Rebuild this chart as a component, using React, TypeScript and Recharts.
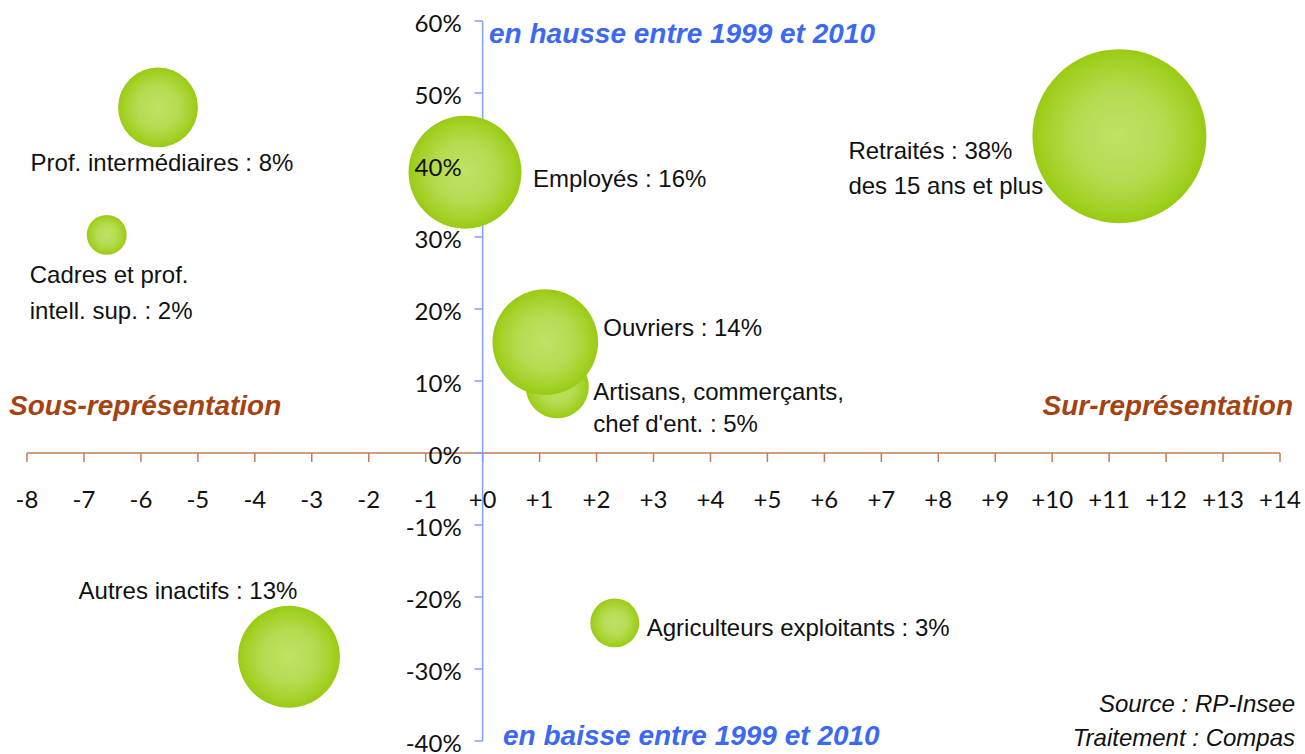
import React from 'react';
import { ScatterChart, Scatter, XAxis, YAxis, ZAxis } from 'recharts';

// données : écart de représentation (points) / évolution 1999-2010 / part de la population
const categories = [
    'Prof. intermédiaires',
    'Cadres et prof. intell. sup.',
    'Employés',
    'Retraités',
    'Artisans, commerçants, chef d\'ent.',
    'Ouvriers',
    'Agriculteurs exploitants',
    'Autres inactifs',
];
const labelLines = [
    ['Prof. intermédiaires : 8%'],
    ['Cadres et prof.', 'intell. sup. : 2%'],
    ['Employés : 16%'],
    ['Retraités : 38%', 'des 15 ans et plus'],
    ['Artisans, commerçants,', 'chef d\'ent. : 5%'],
    ['Ouvriers : 14%'],
    ['Agriculteurs exploitants : 3%'],
    ['Autres inactifs : 13%'],
];
const ecart = [-5.7, -6.6, -0.31, 11.18, 1.31, 1.1, 2.32, -3.4];
const evolution = [48.0, 30.3, 39.0, 44.0, 9.2, 15.4, -23.6, -28.3];
const partPop = [8, 2, 16, 38, 5, 14, 3, 13];

const xTicks = [-8, -7, -6, -5, -4, -3, -2, -1, 0, 1, 2, 3, 4, 5, 6, 7, 8, 9, 10, 11, 12, 13, 14];
const yTicks = [-40, -30, -20, -10, 0, 10, 20, 30, 40, 50, 60];

// placement des étiquettes, relatif au centre de la bulle
const labelPlacement: Record<string, { dx: number; dy: number; anchor: string; lh: number }> = {
    'Prof. intermédiaires': { dx: 4, dy: 55, anchor: 'middle', lh: 0 },
    'Cadres et prof. intell. sup.': { dx: -77, dy: 39, anchor: 'start', lh: 36 },
    'Employés': { dx: 68, dy: 6, anchor: 'start', lh: 0 },
    'Retraités': { dx: -271, dy: 14, anchor: 'start', lh: 35 },
    'Artisans, commerçants, chef d\'ent.': { dx: 36, dy: 4, anchor: 'start', lh: 32 },
    'Ouvriers': { dx: 58, dy: -15, anchor: 'start', lh: 0 },
    'Agriculteurs exploitants': { dx: 32, dy: 4, anchor: 'start', lh: 0 },
    'Autres inactifs': { dx: -101, dy: -67, anchor: 'middle', lh: 0 },
};

const LABEL_FONT = '"Liberation Sans", Arial, sans-serif';
const TICK_FONT = 'Lato, "Open Sans", sans-serif';
const BROWN_AXIS = '#c47b52';
const BLUE_AXIS = '#819fff';

const Bubble = (props: any) => {
    const { cx, cy, payload, index } = props;
    const r = props.width ? props.width / 2 : Math.sqrt((props.size || 0) / Math.PI);
    const place = labelPlacement[payload.name];
    const gid = `bubble-grad-${index}`;
    return (
        <g>
            <defs>
                <radialGradient id={gid} cx="50%" cy="50%" r="50%">
                    <stop offset="0%" stopColor="#c0e166" />
                    <stop offset="50%" stopColor="#b6dc52" />
                    <stop offset="82%" stopColor="#a6d22b" />
                    <stop offset="100%" stopColor="#99cb12" />
                </radialGradient>
            </defs>
            <circle cx={cx} cy={cy} r={r} fill={`url(#${gid})`} />
            <text
                x={cx + place.dx}
                y={cy + place.dy}
                textAnchor={place.anchor as any}
                dominantBaseline="central"
                style={{ fontFamily: LABEL_FONT, fontSize: 24, fill: '#111' }}
            >
                {payload.lines.map((l: string, i: number) => (
                    <tspan key={i} x={cx + place.dx} dy={i === 0 ? 0 : place.lh}>{l}</tspan>
                ))}
            </text>
        </g>
    );
};

// axe horizontal : graduation + libellé
const XTick = (props: any) => {
    const { cx, cy, payload } = props;
    return (
        <g>
            <line x1={cx} y1={cy} x2={cx} y2={cy + 9} stroke={BROWN_AXIS} strokeWidth={1.5} />
            <text x={cx} y={cy + 45} textAnchor="middle" dominantBaseline="central"
                style={{ fontFamily: TICK_FONT, fontSize: 24, fill: '#111' }}>
                {payload.text}
            </text>
        </g>
    );
};

// axe vertical : graduation seule (derrière les bulles)
const YTickMark = (props: any) => {
    const { cx, cy } = props;
    return <line x1={cx - 8} y1={cy} x2={cx} y2={cy} stroke={BLUE_AXIS} strokeWidth={1.5} />;
};

// axe vertical : libellé (devant les bulles)
const YTickLabel = (props: any) => {
    const { cx, cy, payload } = props;
    return (
        <text x={cx - 21} y={cy + 1} textAnchor="end" dominantBaseline="central"
            style={{ fontFamily: TICK_FONT, fontSize: 24, fill: '#111' }}>
            {payload.text}
        </text>
    );
};

export default function App() {
    const bubbles = categories.map((name, i) => ({
        name,
        lines: labelLines[i],
        x: ecart[i],
        y: evolution[i],
        size: partPop[i],
    }));
    const xTickData = xTicks.map(t => ({ x: t, y: 0, text: t >= 0 ? `+${t}` : `${t}` }));
    const yTickData = yTicks.map(t => ({ x: 0, y: t, text: `${t}%` }));

    const brown = '#a5420f';
    const blue = '#3b68f5';

    return (
        <div style={{ position: 'absolute', left: 0, top: 0, width: 1305, height: 754, background: '#fff' }}>
            <ScatterChart width={1305} height={754} margin={{ top: 21, right: 25, bottom: 13, left: 27 }}>
                <XAxis type="number" dataKey="x" domain={[-8, 14]} hide />
                <YAxis type="number" dataKey="y" domain={[-40, 60]} hide />
                <ZAxis type="number" dataKey="size" domain={[0, 38]} range={[0, Math.PI * 87 * 87]} />
                <Scatter data={xTickData} line={{ stroke: BROWN_AXIS, strokeWidth: 1.5 }}
                    shape={(p: any) => <XTick {...p} />} isAnimationActive={false} />
                <Scatter data={yTickData} line={{ stroke: BLUE_AXIS, strokeWidth: 1.5 }}
                    shape={(p: any) => <YTickMark {...p} />} isAnimationActive={false} />
                <Scatter data={bubbles} shape={(p: any) => <Bubble {...p} />} isAnimationActive={false} />
                <Scatter data={yTickData} shape={(p: any) => <YTickLabel {...p} />} isAnimationActive={false} />
            </ScatterChart>
            <svg width={1305} height={754} style={{ position: 'absolute', left: 0, top: 0, pointerEvents: 'none' }}>
                <g style={{ fontFamily: LABEL_FONT, fontWeight: 'bold', fontStyle: 'italic', fontSize: 28 }}>
                    <text x={489} y={43} fill={blue}>en hausse entre 1999 et 2010</text>
                    <text x={503} y={745} fill={blue}>en baisse entre 1999 et 2010</text>
                    <text x={9} y={415} fill={brown}>Sous-représentation</text>
                    <text x={1293} y={415} fill={brown} textAnchor="end">Sur-représentation</text>
                </g>
                <g style={{ fontFamily: LABEL_FONT, fontStyle: 'italic', fontSize: 24 }} fill="#111">
                    <text x={1295} y={712} textAnchor="end">Source : RP-Insee</text>
                    <text x={1295} y={746} textAnchor="end">Traitement : Compas</text>
                </g>
            </svg>
        </div>
    );
}
